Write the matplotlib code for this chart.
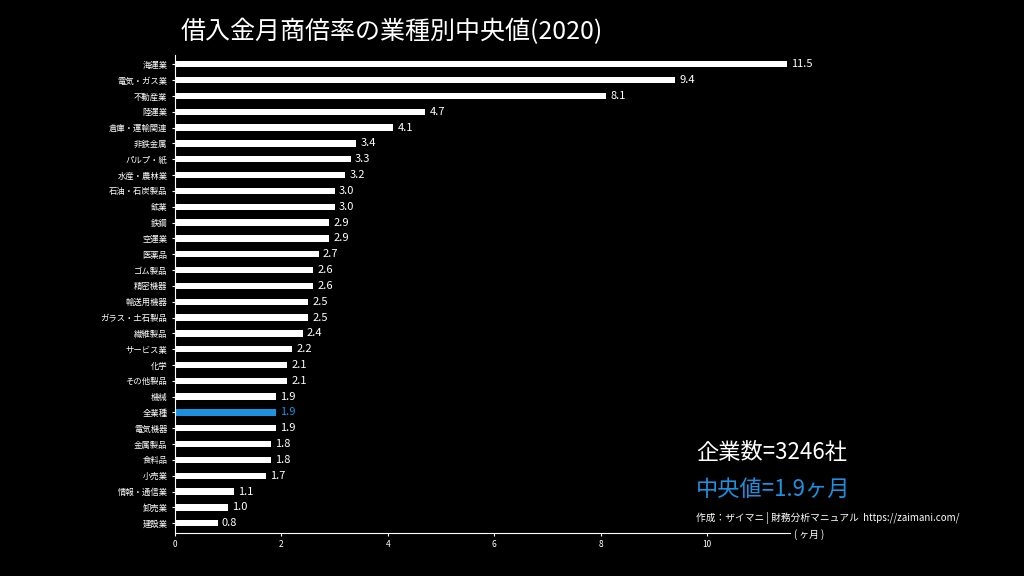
import matplotlib.pyplot as plt

plt.rcParams['font.family'] = 'Noto Sans CJK JP'

categories = ['海運業', '電気・ガス業', '不動産業', '陸運業', '倉庫・運輸関連', '非鉄金属',
              'パルプ・紙', '水産・農林業', '石油・石炭製品', '鉱業', '鉄鋼', '空運業',
              '医薬品', 'ゴム製品', '精密機器', '輸送用機器', 'ガラス・土石製品', '繊維製品',
              'サービス業', '化学', 'その他製品', '機械', '全業種', '電気機器', '金属製品',
              '食料品', '小売業', '情報・通信業', '卸売業', '建設業']
values = [11.5, 9.4, 8.1, 4.7, 4.1, 3.4, 3.3, 3.2, 3.0, 3.0, 2.9, 2.9, 2.7, 2.6, 2.6,
          2.5, 2.5, 2.4, 2.2, 2.1, 2.1, 1.9, 1.9, 1.9, 1.8, 1.8, 1.7, 1.1, 1.0, 0.8]
highlight = '全業種'
xticks = [0, 2, 4, 6, 8, 10]

blue = '#1e90e0'
fig = plt.figure(figsize=(10.24, 5.76), dpi=100, facecolor='black')
ax = fig.add_axes([0.171, 0.075, 0.6, 0.83], facecolor='black')

ys = list(range(len(categories)))[::-1]
colors = [blue if c == highlight else 'white' for c in categories]
ax.barh(ys, values, height=0.4, color=colors)
for y, v, c in zip(ys, values, colors):
    ax.text(v + 0.08, y, f'{v:.1f}', color=c, va='center', ha='left', fontsize=8)

ax.set_yticks(ys)
ax.set_yticklabels(categories, fontsize=6, color='white')
for lbl, c in zip(ax.get_yticklabels(), colors):
    lbl.set_color(c)
ax.set_xticks(xticks)
ax.set_xticklabels([str(t) for t in xticks], fontsize=6, color='white')
ax.tick_params(colors='white', length=2)
ax.set_xlim(0, 11.55)
ax.set_ylim(-0.6, len(categories) - 0.4)
for s in ['top', 'right']:
    ax.spines[s].set_visible(False)
for s in ['left', 'bottom']:
    ax.spines[s].set_color('white')

fig.text(0.176, 0.945, '借入金月商倍率の業種別中央値(2020)', color='white', fontsize=18,
         va='center', ha='left')
fig.text(0.68, 0.215, '企業数=3246社', color='white', fontsize=16, va='center')
fig.text(0.68, 0.15, '中央値=1.9ヶ月', color=blue, fontsize=16, va='center')
fig.text(0.68, 0.1, '作成：ザイマニ | 財務分析マニュアル  https://zaimani.com/', color='white',
         fontsize=7, va='center')
fig.text(0.775, 0.072, '( ヶ月 )', color='white', fontsize=7, va='center')

fig.savefig('out.png', dpi=100, facecolor='black')
